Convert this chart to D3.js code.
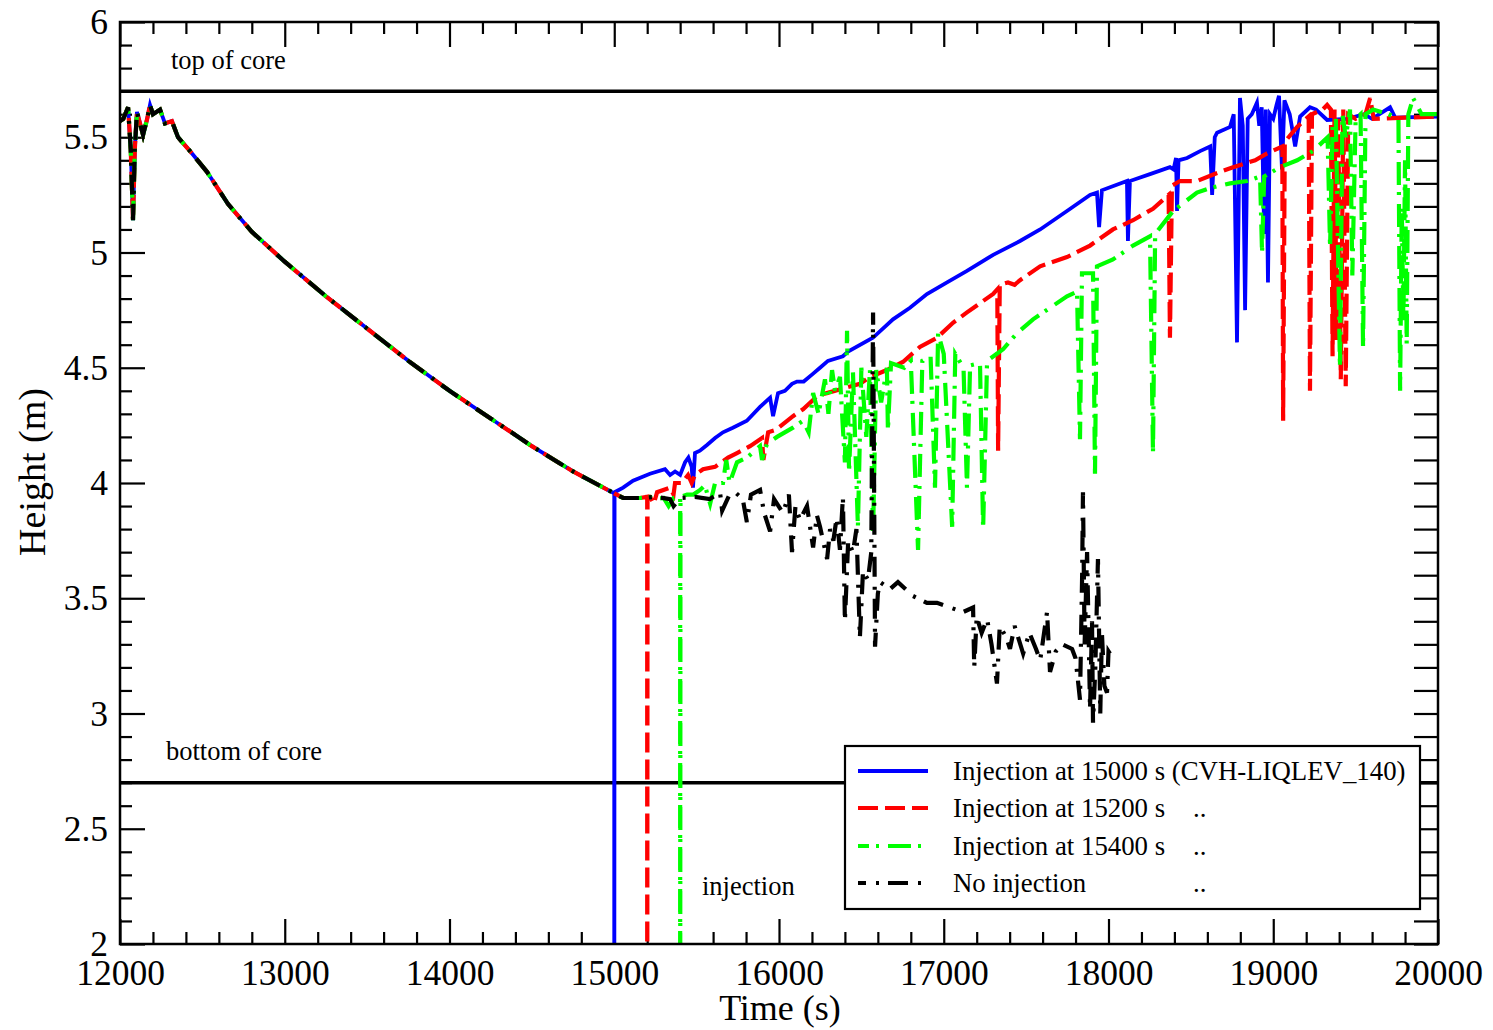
<!DOCTYPE html>
<html>
<head>
<meta charset="utf-8">
<script src="https://cdn.jsdelivr.net/npm/d3@7"></script>
<style>
  html, body { margin: 0; padding: 0; background: #fff; }
  svg text { font-family: "Liberation Serif", "DejaVu Serif", serif; fill: #000; }
</style>
</head>
<body>
<svg id="chart" width="1493" height="1030"></svg>
<script>
// Shared level history before the injection times (all four runs coincide)
const commonTime = [12000, 12020, 12049, 12065, 12079, 12090, 12103, 12140, 12165, 12182, 12200, 12243, 12273, 12315, 12352, 12425, 12528, 12656, 12800, 13000, 13250, 13500, 13750, 14000, 14250, 14500, 14750, 15000];
const commonHeight = [5.57, 5.58, 5.63, 5.45, 5.14, 5.45, 5.61, 5.51, 5.58, 5.64, 5.60, 5.62, 5.56, 5.57, 5.50, 5.44, 5.35, 5.21, 5.09, 4.96, 4.81, 4.67, 4.53, 4.40, 4.28, 4.16, 4.05, 3.955];

// Injection at 15000 s
const inj15000Time = [15000, 15002, 15054, 15114, 15217, 15308, 15339, 15369, 15400, 15430, 15450, 15470, 15478, 15490, 15520, 15563, 15612, 15660, 15720, 15805, 15885, 15946, 15964, 15994, 16036, 16079, 16109, 16150, 16200, 16249, 16297, 16388, 16419, 16570, 16692, 16795, 16898, 17020, 17141, 17300, 17463, 17585, 17748, 17888, 17930, 17943, 17960, 18112, 18118, 18130, 18252, 18373, 18395, 18410, 18416, 18425, 18477, 18556, 18617, 18629, 18645, 18659, 18738, 18760, 18780, 18798, 18815, 18829, 18845, 18870, 18901, 18915, 18930, 18945, 18955, 18968, 18980, 19000, 19020, 19035, 19053, 19068, 19100, 19133, 19163, 19223, 19260, 19327, 19450, 19550, 19600, 19709, 19740, 20000];
const inj15000Height = [1.0, 3.96, 3.98, 4.01, 4.04, 4.06, 4.035, 4.05, 4.035, 4.09, 4.11, 4.07, 3.98, 4.13, 4.14, 4.165, 4.195, 4.22, 4.24, 4.27, 4.33, 4.37, 4.29, 4.39, 4.40, 4.43, 4.44, 4.44, 4.47, 4.50, 4.53, 4.55, 4.57, 4.63, 4.71, 4.76, 4.82, 4.87, 4.92, 4.99, 5.05, 5.10, 5.18, 5.25, 5.26, 5.11, 5.27, 5.31, 5.05, 5.31, 5.34, 5.37, 5.36, 5.41, 5.18, 5.40, 5.41, 5.44, 5.46, 5.25, 5.50, 5.52, 5.545, 5.60, 4.61, 5.67, 5.55, 4.75, 5.58, 5.60, 5.65, 5.55, 5.63, 5.08, 5.62, 4.87, 5.60, 5.58, 5.64, 5.68, 5.36, 5.66, 5.60, 5.46, 5.59, 5.63, 5.62, 5.575, 5.58, 5.60, 5.58, 5.63, 5.585, 5.59];

// Injection at 15200 s
const inj15200Time = [15054, 15157, 15200, 15200, 15202, 15217, 15240, 15260, 15339, 15360, 15369, 15410, 15448, 15470, 15490, 15539, 15612, 15691, 15745, 15824, 15897, 15905, 15934, 15980, 16085, 16146, 16237, 16290, 16388, 16491, 16552, 16655, 16752, 16855, 16959, 17056, 17141, 17220, 17300, 17325, 17330, 17340, 17390, 17430, 17463, 17585, 17748, 17888, 18027, 18149, 18270, 18365, 18373, 18385, 18434, 18537, 18659, 18756, 18890, 18962, 19055, 19060, 19070, 19145, 19215, 19223, 19235, 19300, 19327, 19350, 19360, 19372, 19385, 19395, 19410, 19425, 19440, 19455, 19500, 19560, 19588, 19610, 19800, 20000];
const inj15200Height = [3.935, 3.935, 3.94, 1.0, 3.94, 3.94, 3.91, 3.96, 3.98, 3.95, 4.0, 4.0, 4.035, 4.0, 4.035, 4.06, 4.07, 4.11, 4.13, 4.16, 4.195, 4.10, 4.22, 4.23, 4.29, 4.32, 4.38, 4.39, 4.41, 4.43, 4.46, 4.49, 4.525, 4.59, 4.63, 4.695, 4.74, 4.78, 4.82, 4.84, 4.14, 4.86, 4.87, 4.86, 4.88, 4.94, 4.98, 5.03, 5.10, 5.14, 5.19, 5.25, 4.63, 5.29, 5.31, 5.31, 5.345, 5.37, 5.40, 5.43, 5.46, 4.27, 5.48, 5.545, 5.59, 4.40, 5.60, 5.62, 5.64, 5.62, 4.55, 5.62, 4.62, 5.58, 4.45, 5.62, 4.42, 5.60, 5.58, 5.60, 5.67, 5.58, 5.585, 5.59];

// Injection at 15400 s
const inj15400Time = [15054, 15157, 15217, 15240, 15300, 15330, 15360, 15400, 15400, 15402, 15442, 15480, 15521, 15550, 15582, 15612, 15660, 15680, 15700, 15745, 15805, 15885, 15897, 15927, 15988, 16085, 16146, 16180, 16207, 16240, 16279, 16300, 16322, 16340, 16370, 16400, 16413, 16425, 16449, 16479, 16500, 16530, 16552, 16571, 16590, 16620, 16655, 16661, 16680, 16760, 16800, 16844, 16870, 16920, 16947, 16966, 17000, 17051, 17070, 17120, 17141, 17160, 17220, 17239, 17263, 17360, 17445, 17542, 17645, 17748, 17809, 17827, 17839, 17906, 17918, 17930, 18027, 18149, 18252, 18270, 18283, 18392, 18537, 18617, 18738, 18841, 18920, 18932, 18945, 19041, 19145, 19242, 19330, 19345, 19360, 19380, 19405, 19420, 19440, 19466, 19480, 19500, 19530, 19545, 19560, 19606, 19700, 19760, 19770, 19780, 19790, 19800, 19810, 19820, 19849, 19900, 20000];
const inj15400Height = [3.935, 3.935, 3.94, 3.93, 3.935, 3.90, 3.935, 3.935, 1.0, 3.94, 3.95, 3.95, 3.97, 3.99, 3.91, 4.0, 4.0, 4.1, 4.0, 4.09, 4.11, 4.16, 4.10, 4.17, 4.20, 4.24, 4.27, 4.22, 4.39, 4.30, 4.45, 4.30, 4.49, 4.40, 4.46, 4.09, 4.66, 4.05, 4.48, 3.81, 4.50, 4.20, 4.49, 3.78, 4.49, 4.35, 4.50, 4.23, 4.52, 4.50, 4.53, 3.71, 4.53, 4.55, 3.98, 4.65, 4.56, 3.81, 4.56, 4.50, 3.98, 4.51, 4.52, 3.80, 4.53, 4.58, 4.65, 4.71, 4.76, 4.81, 4.83, 4.19, 4.91, 4.91, 4.04, 4.94, 4.97, 5.03, 5.07, 4.13, 5.08, 5.18, 5.26, 5.28, 5.30, 5.31, 5.33, 5.00, 5.33, 5.37, 5.40, 5.44, 5.50, 5.02, 5.55, 5.58, 4.50, 5.60, 5.50, 5.62, 4.90, 5.58, 5.60, 4.59, 5.60, 5.62, 5.60, 5.58, 4.40, 5.20, 4.70, 5.40, 4.60, 5.60, 5.67, 5.60, 5.60];

// No injection
const noInjTime = [15054, 15157, 15250, 15339, 15360, 15400, 15490, 15580, 15642, 15655, 15700, 15733, 15780, 15805, 15830, 15885, 15910, 15946, 15970, 16024, 16060, 16079, 16100, 16127, 16170, 16207, 16230, 16249, 16292, 16310, 16330, 16350, 16370, 16388, 16400, 16420, 16449, 16470, 16491, 16510, 16540, 16560, 16571, 16583, 16600, 16613, 16674, 16722, 16813, 16898, 16959, 17038, 17117, 17178, 17185, 17200, 17230, 17263, 17290, 17323, 17340, 17380, 17402, 17430, 17482, 17520, 17560, 17585, 17627, 17645, 17680, 17720, 17779, 17800, 17827, 17840, 17845, 17855, 17870, 17888, 17900, 17906, 17920, 17936, 17950, 17960, 17975, 17991, 18000, 18009];
const noInjHeight = [3.935, 3.935, 3.94, 3.93, 3.90, 3.935, 3.94, 3.93, 3.96, 3.88, 3.95, 3.96, 3.93, 3.83, 3.95, 3.97, 3.87, 3.79, 3.93, 3.87, 3.95, 3.70, 3.90, 3.84, 3.90, 3.72, 3.86, 3.81, 3.67, 3.80, 3.75, 3.85, 3.71, 3.94, 3.40, 3.75, 3.70, 3.80, 3.33, 3.62, 3.58, 3.70, 4.74, 3.29, 3.52, 3.57, 3.54, 3.57, 3.51, 3.48, 3.48, 3.46, 3.44, 3.46, 3.20, 3.42, 3.35, 3.41, 3.30, 3.13, 3.38, 3.33, 3.28, 3.38, 3.26, 3.35, 3.28, 3.23, 3.44, 3.18, 3.27, 3.30, 3.28, 3.24, 3.06, 3.60, 3.96, 3.30, 3.70, 3.02, 3.40, 2.96, 3.20, 3.67, 3.00, 3.35, 3.12, 3.09, 3.27, 3.26];

// Axis ticks and reference levels
const xMajorTicks = [12000, 13000, 14000, 15000, 16000, 17000, 18000, 19000, 20000];
const yMajorTicks = [2, 2.5, 3, 3.5, 4, 4.5, 5, 5.5, 6];
const yTickLabels = ["2", "2.5", "3", "3.5", "4", "4.5", "5", "5.5", "6"];
const coreTop = 5.7;
const coreBottom = 2.7;

const legendLabels = ["Injection at 15000 s (CVH-LIQLEV_140)", "Injection at 15200 s", "Injection at 15400 s", "No injection"];
const legendSuffix = ["", "..", "..", ".."];

const svg = d3.select("#chart");
const plotLeft = 120, plotRight = 1438, plotTop = 22, plotBottom = 944;
const x = d3.scaleLinear().domain([12000, 20000]).range([plotLeft, plotRight]);
const y = d3.scaleLinear().domain([2, 6]).range([plotBottom, plotTop]);

const xMinor = d3.range(12000, 20001, 200).filter(v => v % 1000 !== 0);
const yMinor = d3.range(20, 61, 1).map(v => v / 10).filter(v => Math.round(v * 10) % 5 !== 0);

svg.append("defs").append("clipPath").attr("id", "plotClip")
  .append("rect").attr("x", plotLeft).attr("y", plotTop)
  .attr("width", plotRight - plotLeft).attr("height", plotBottom - plotTop);

function styleAxis(g) {
  g.select(".domain").remove();
  g.selectAll(".tick line").attr("stroke", "#000").attr("stroke-width", 2.2);
}

// bottom axis
svg.append("g").attr("transform", `translate(0,${plotBottom})`)
  .call(d3.axisBottom(x).tickValues(xMajorTicks).tickSize(-25).tickFormat(d3.format("d")))
  .call(styleAxis)
  .call(g => g.selectAll("text").attr("y", 41).attr("dy", 0)
    .style("font-size", "35.5px").style("font-family", "Liberation Serif"));
svg.append("g").attr("transform", `translate(0,${plotBottom})`)
  .call(d3.axisBottom(x).tickValues(xMinor).tickSize(-12).tickFormat(""))
  .call(styleAxis);
// top axis
svg.append("g").attr("transform", `translate(0,${plotTop})`)
  .call(d3.axisTop(x).tickValues(xMajorTicks).tickSize(-25).tickFormat(""))
  .call(styleAxis);
svg.append("g").attr("transform", `translate(0,${plotTop})`)
  .call(d3.axisTop(x).tickValues(xMinor).tickSize(-12).tickFormat(""))
  .call(styleAxis);
// left axis
svg.append("g").attr("transform", `translate(${plotLeft},0)`)
  .call(d3.axisLeft(y).tickValues(yMajorTicks).tickSize(-25).tickPadding(12)
    .tickFormat((d, i) => yTickLabels[i]))
  .call(styleAxis)
  .call(g => g.selectAll("text").attr("x", -12).attr("dy", "0.33em")
    .style("font-size", "35.5px").style("font-family", "Liberation Serif"));
svg.append("g").attr("transform", `translate(${plotLeft},0)`)
  .call(d3.axisLeft(y).tickValues(yMinor).tickSize(-12).tickFormat(""))
  .call(styleAxis);
// right axis: every tick drawn full length
svg.append("g").attr("transform", `translate(${plotRight},0)`)
  .call(d3.axisRight(y).tickValues(yMajorTicks.concat(yMinor)).tickSize(-24).tickFormat(""))
  .call(styleAxis);

// axis titles
svg.append("text").attr("x", 780).attr("y", 1020).attr("text-anchor", "middle")
  .style("font-size", "36px").text("Time (s)");
svg.append("text").attr("transform", "translate(45,472) rotate(-90)").attr("text-anchor", "middle")
  .style("font-size", "38px").text("Height (m)");

// core limits
const plot = svg.append("g").attr("clip-path", "url(#plotClip)");
[coreTop, coreBottom].forEach(v => {
  plot.append("line").attr("x1", plotLeft).attr("x2", plotRight).attr("y1", y(v)).attr("y2", y(v))
    .attr("stroke", "#000").attr("stroke-width", 3.5);
});

const line = d3.line().x(d => x(d[0])).y(d => y(d[1]));
const zip = (t, h) => t.map((v, i) => [v, h[i]]);
const common = zip(commonTime, commonHeight);

const series = [
  { data: common.concat(zip(inj15000Time, inj15000Height)), color: "#0000ff", dash: null, width: 3.8 },
  { data: common.concat(zip(inj15200Time, inj15200Height)), color: "#ff0000", dash: "20,7", width: 4.2 },
  { data: common.concat(zip(inj15400Time, inj15400Height)), color: "#00ff00", dash: "23,7,3,9", width: 4.2 },
  { data: common.concat(zip(noInjTime, noInjHeight)), color: "#000000", dash: "20,10,3,9", width: 4.2 }
];

series.forEach(s => {
  plot.append("path").datum(s.data).attr("d", line)
    .attr("fill", "none").attr("stroke", s.color).attr("stroke-width", s.width)
    .attr("stroke-linejoin", "miter").attr("stroke-miterlimit", 4)
    .attr("stroke-dasharray", s.dash);
});

// annotations
svg.append("text").attr("x", 171).attr("y", 69).style("font-size", "26.5px").text("top of core");
svg.append("text").attr("x", 166).attr("y", 760).style("font-size", "26.5px").text("bottom of core");
svg.append("text").attr("x", 702).attr("y", 895).style("font-size", "26.5px").text("injection");

// frame
svg.append("rect").attr("x", plotLeft).attr("y", plotTop)
  .attr("width", plotRight - plotLeft).attr("height", plotBottom - plotTop)
  .attr("fill", "none").attr("stroke", "#000").attr("stroke-width", 2.5);

// legend
const lg = svg.append("g");
lg.append("rect").attr("x", 845).attr("y", 746).attr("width", 575).attr("height", 163)
  .attr("fill", "#fff").attr("stroke", "#000").attr("stroke-width", 2.2);
const rowY = [771, 808, 846, 883];
series.forEach((s, i) => {
  lg.append("line").attr("x1", 858).attr("x2", 928).attr("y1", rowY[i]).attr("y2", rowY[i])
    .attr("stroke", s.color).attr("stroke-width", s.width).attr("stroke-dasharray", s.dash)
    .attr("stroke-dashoffset", i >= 2 ? 12 : 0);
  lg.append("text").attr("x", 953).attr("y", rowY[i] + 9).style("font-size", "26.8px").text(legendLabels[i]);
  if (legendSuffix[i]) lg.append("text").attr("x", 1193).attr("y", rowY[i] + 9).style("font-size", "26.8px").text(legendSuffix[i]);
});
</script>
</body>
</html>
